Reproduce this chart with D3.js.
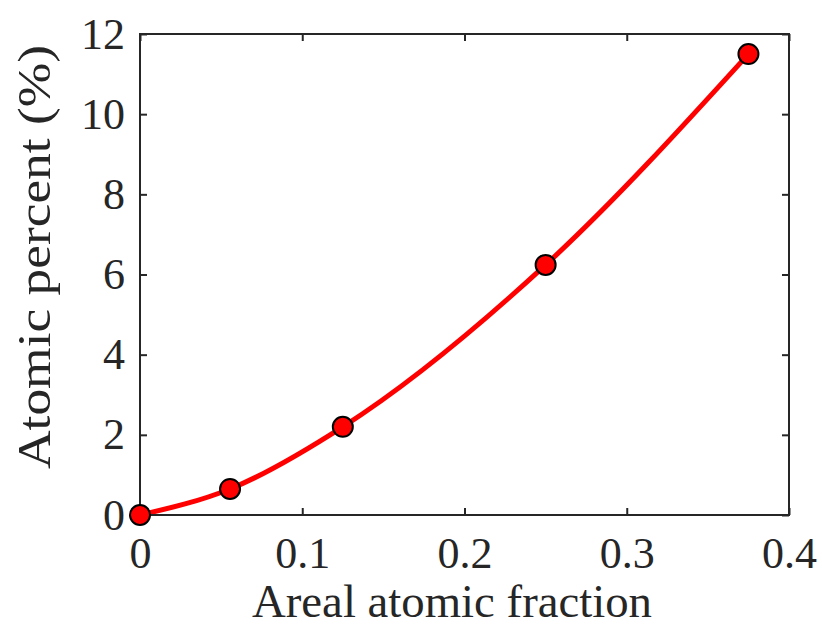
<!DOCTYPE html>
<html>
<head>
<meta charset="utf-8">
<script src="https://cdn.jsdelivr.net/npm/d3@7"></script>
<style>
  body { margin: 0; background: #fff; }
  svg text { font-family: "Liberation Serif", "DejaVu Serif", serif; fill: #262626; }
</style>
</head>
<body>
<svg class="chart" width="822" height="627"></svg>
<script>
// data
var fraction = [0, 0.0555, 0.125, 0.25, 0.375];
var percent = [0, 0.65, 2.2, 6.24, 11.5];
var xTicks = [0, 0.1, 0.2, 0.3, 0.4];
var yTicks = [0, 2, 4, 6, 8, 10, 12];
var xTitle = "Areal atomic fraction";
var yTitle = "Atomic percent (%)";

var svg = d3.select('svg.chart');
var plotLeft = 140, plotRight = 789, plotTop = 34, plotBottom = 515;
var tickLen = 7;
var axisColor = "#262626";

var x = d3.scaleLinear().domain([0, 0.4]).range([plotLeft, plotRight]);
var y = d3.scaleLinear().domain([0, 12]).range([plotBottom, plotTop]);

var points = fraction.map(function(d, i) { return [d, percent[i]]; });

function styleTicks(g) {
    g.select(".domain").remove();
    g.selectAll("line").attr("stroke", axisColor).attr("stroke-width", 2);
    g.selectAll("text").attr("font-size", 44).attr("font-family", null).attr("fill", null);
}

// fitted curve
var line = d3.line()
    .x(function(d) { return x(d[0]); })
    .y(function(d) { return y(d[1]); })
    .curve(d3.curveMonotoneX);

svg.append("path")
    .datum(points)
    .attr("d", line)
    .attr("fill", "none")
    .attr("stroke", "#ff0000")
    .attr("stroke-width", 5);

// box with inward ticks on all sides
svg.append("rect")
    .attr("x", plotLeft).attr("y", plotTop)
    .attr("width", plotRight - plotLeft).attr("height", plotBottom - plotTop)
    .attr("fill", "none").attr("stroke", axisColor).attr("stroke-width", 2);

svg.append("g")
    .attr("transform", "translate(0," + plotBottom + ")")
    .call(d3.axisBottom(x).tickValues(xTicks).tickSize(-tickLen).tickPadding(22)
        .tickFormat(function(d) { return d === 0 ? "0" : d3.format(".1f")(d); }))
    .call(styleTicks);

svg.append("g")
    .attr("transform", "translate(0," + plotTop + ")")
    .call(d3.axisTop(x).tickValues(xTicks).tickSize(-tickLen).tickFormat(""))
    .call(styleTicks);

svg.append("g")
    .attr("transform", "translate(" + plotLeft + ",0)")
    .call(d3.axisLeft(y).tickValues(yTicks).tickSize(-tickLen).tickPadding(15))
    .call(styleTicks);

svg.append("g")
    .attr("transform", "translate(" + plotRight + ",0)")
    .call(d3.axisRight(y).tickValues(yTicks).tickSize(-tickLen).tickFormat(""))
    .call(styleTicks);

// markers
svg.selectAll(".dot")
    .data(points)
    .enter()
        .append("circle")
        .attr("class", "dot")
        .attr("cx", function(d) { return x(d[0]); })
        .attr("cy", function(d) { return y(d[1]); })
        .attr("r", 10)
        .attr("fill", "#ff0000")
        .attr("stroke", "#000")
        .attr("stroke-width", 2);

// titles
svg.append("text")
    .text(xTitle)
    .attr("x", 452)
    .attr("y", 617)
    .attr("text-anchor", "middle")
    .attr("font-size", 46)
    .attr("textLength", 400)
    .attr("lengthAdjust", "spacingAndGlyphs");

svg.append("text")
    .text(yTitle)
    .attr("transform", "translate(50,257) rotate(-90)")
    .attr("text-anchor", "middle")
    .attr("font-size", 46)
    .attr("textLength", 424)
    .attr("lengthAdjust", "spacingAndGlyphs");
</script>
</body>
</html>
